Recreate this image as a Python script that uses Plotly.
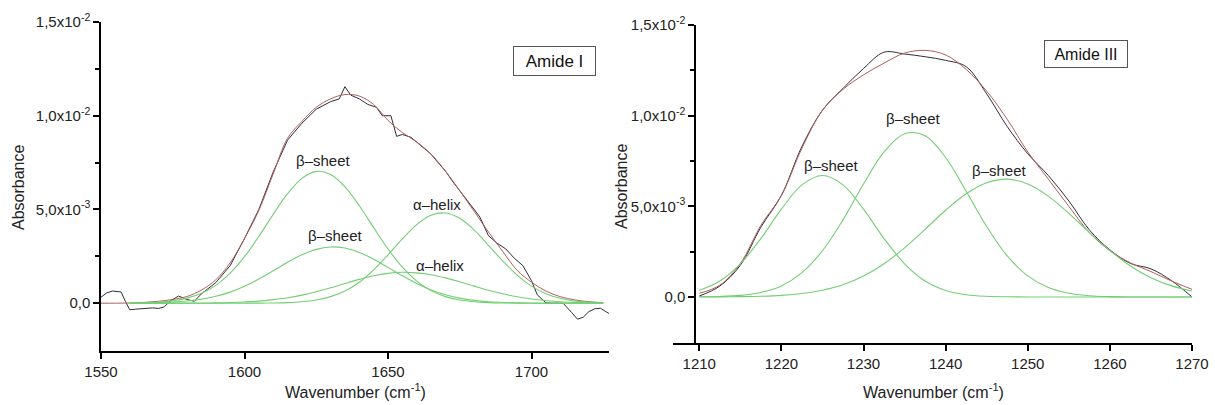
import plotly.graph_objects as go

# ---------------- Amide I (left) ----------------
amI_fit_x = [1550, 1555, 1560, 1565, 1570, 1575, 1580, 1585, 1590, 1595, 1600, 1605, 1610, 1615,
             1620, 1625, 1630, 1635, 1640, 1645, 1650, 1655, 1660, 1665, 1670, 1675, 1680, 1685,
             1690, 1695, 1700, 1705, 1710, 1715, 1720, 1725]
amI_fit_y = [0.0, 0.0, 0.01, 0.04, 0.10, 0.20, 0.36, 0.70, 1.25, 2.15, 3.45, 4.95, 6.90, 8.80,
             9.70, 10.45, 10.90, 11.13, 11.05, 10.60, 9.75, 9.10, 8.60, 7.95, 7.05, 6.00, 4.90, 3.80,
             2.75, 1.75, 1.12, 0.65, 0.35, 0.18, 0.08, 0.03]

amI_raw_x = [1550, 1552, 1554, 1557, 1558.5, 1560, 1562, 1565, 1568, 1570, 1572, 1574, 1577, 1580,
             1582.5, 1585, 1590, 1595, 1600, 1605, 1610, 1615, 1620, 1625, 1628, 1630, 1633, 1635,
             1637, 1640, 1643, 1646, 1648, 1651, 1653, 1655, 1658, 1662, 1665, 1668, 1670, 1673,
             1676, 1679, 1682, 1685, 1688, 1691, 1694, 1697, 1700, 1702, 1705, 1708, 1711, 1714,
             1716, 1718, 1720, 1722, 1724, 1727]
amI_raw_y = [0.32, 0.55, 0.65, 0.60, 0.10, -0.35, -0.32, -0.30, -0.25, -0.28, -0.20, 0.10, 0.38, 0.20,
             0.10, 0.50, 1.10, 2.00, 3.45, 5.00, 7.00, 8.70, 9.60, 10.35, 10.60, 10.75, 10.90, 11.55,
             11.10, 10.90, 10.60, 10.45, 10.00, 10.00, 8.90, 9.00, 8.85, 8.35, 7.95, 7.40, 7.05, 6.40,
             5.80, 5.20, 4.60, 3.60, 3.20, 2.90, 2.40, 2.00, 1.20, 0.45, 0.02, 0.0, 0.0, -0.50,
             -0.85, -0.75, -0.45, -0.30, -0.27, -0.55]

amI_comp_x = [1560, 1565, 1570, 1575, 1580, 1585, 1590, 1595, 1600, 1605, 1610, 1615, 1620, 1625,
              1630, 1635, 1640, 1645, 1650, 1655, 1660, 1665, 1670, 1675, 1680, 1685, 1690, 1695,
              1700, 1705, 1710, 1715, 1720, 1725]
amI_beta1 = [0.008, 0.023, 0.056, 0.127, 0.27, 0.53, 0.95, 1.60, 2.48, 3.56, 4.74, 5.84, 6.66, 7.03,
             6.87, 6.21, 5.20, 4.03, 2.89, 1.92, 1.18, 0.67, 0.35, 0.17, 0.078, 0.033, 0.013, 0.005,
             0.0, 0.0, 0.0, 0.0, 0.0, 0.0]
amI_beta2 = [0.005, 0.013, 0.029, 0.059, 0.116, 0.21, 0.37, 0.59, 0.90, 1.29, 1.73, 2.18, 2.58, 2.87,
             3.00, 2.94, 2.71, 2.35, 1.91, 1.46, 1.05, 0.71, 0.45, 0.27, 0.15, 0.078, 0.039, 0.018,
             0.008, 0.0, 0.0, 0.0, 0.0, 0.0]
amI_alpha1 = [0.0, 0.0, 0.0, 0.0, 0.0, 0.0, 0.0, 0.0, 0.002, 0.005, 0.012, 0.031, 0.076, 0.17,
              0.35, 0.65, 1.12, 1.78, 2.58, 3.43, 4.19, 4.69, 4.81, 4.53, 3.91, 3.09, 2.25, 1.50,
              0.91, 0.51, 0.26, 0.12, 0.054, 0.021]
amI_alpha2 = [0.0, 0.0, 0.001, 0.002, 0.004, 0.009, 0.018, 0.035, 0.065, 0.11, 0.19, 0.29, 0.43, 0.61,
              0.82, 1.05, 1.27, 1.46, 1.59, 1.65, 1.62, 1.52, 1.35, 1.14, 0.91, 0.69, 0.50, 0.34,
              0.22, 0.14, 0.081, 0.045, 0.024, 0.012]

# ---------------- Amide III (right) ----------------
amIII_x = [1210, 1212.5, 1215, 1217.5, 1220, 1222.5, 1225, 1227.5, 1230, 1232.5, 1235, 1237.5, 1240,
           1242.5, 1245, 1247.5, 1250, 1252.5, 1255, 1257.5, 1260, 1262.5, 1265, 1267.5, 1270]
amIII_fit = [0.20, 0.65, 1.85, 3.95, 5.60, 8.20, 10.30, 11.45, 12.25, 12.90, 13.45, 13.60, 13.35,
             12.55, 11.35, 9.80, 8.00, 6.50, 5.00, 3.55, 2.55, 1.88, 1.40, 0.88, 0.42]
amIII_raw = [0.05, 0.60, 1.75, 3.85, 5.60, 8.30, 10.30, 11.50, 12.60, 13.50, 13.40, 13.25, 13.05,
             12.70, 11.20, 9.40, 7.90, 6.70, 5.30, 3.70, 2.60, 1.85, 1.55, 0.90, 0.0]
amIII_betaA = [0.36, 0.88, 1.83, 3.22, 4.84, 6.18, 6.70, 6.18, 4.84, 3.22, 1.83, 0.88, 0.36,
               0.125, 0.037, 0.009, 0.0, 0.0, 0.0, 0.0, 0.0, 0.0, 0.0, 0.0, 0.0]
amIII_betaB = [0.007, 0.027, 0.088, 0.25, 0.61, 1.34, 2.55, 4.25, 6.23, 8.00, 9.00, 8.89, 7.69,
               5.83, 3.88, 2.26, 1.16, 0.52, 0.20, 0.07, 0.02, 0.0, 0.0, 0.0, 0.0]
amIII_betaC = [0.002, 0.006, 0.016, 0.038, 0.088, 0.19, 0.37, 0.67, 1.15, 1.83, 2.71, 3.73, 4.78,
               5.69, 6.30, 6.50, 6.23, 5.56, 4.61, 3.56, 2.56, 1.71, 1.06, 0.61, 0.33]

SCALE = 1e-3
yticks = [0.0, 0.005, 0.010, 0.015]
yticktext = ["0,0", "5,0x10<sup>-3</sup>", "1,0x10<sup>-2</sup>", "1,5x10<sup>-2</sup>"]
yminor = [0.0025, 0.0075, 0.0125]

GREEN = "#72cf72"
RED = "#b0605c"
BLACK = "#2e2e3a"
FONT = "Liberation Sans, Arial, sans-serif"

def sc(v):
    return [a * SCALE for a in v]

fig = go.Figure()

# Left traces
fig.add_trace(go.Scatter(x=amI_raw_x, y=sc(amI_raw_y), mode="lines", line=dict(color=BLACK, width=1),
                         xaxis="x", yaxis="y", showlegend=False))
fig.add_trace(go.Scatter(x=amI_fit_x, y=sc(amI_fit_y), mode="lines", line=dict(color=RED, width=1, shape="spline"),
                         xaxis="x", yaxis="y", showlegend=False))
for comp in [amI_beta1, amI_beta2, amI_alpha1, amI_alpha2]:
    fig.add_trace(go.Scatter(x=amI_comp_x, y=sc(comp), mode="lines",
                             line=dict(color=GREEN, width=1.1, shape="spline"),
                             xaxis="x", yaxis="y", showlegend=False))

# Right traces
fig.add_trace(go.Scatter(x=amIII_x, y=sc(amIII_raw), mode="lines", line=dict(color=BLACK, width=1, shape="spline"),
                         xaxis="x2", yaxis="y2", showlegend=False))
fig.add_trace(go.Scatter(x=amIII_x, y=sc(amIII_fit), mode="lines", line=dict(color=RED, width=1, shape="spline"),
                         xaxis="x2", yaxis="y2", showlegend=False))
for comp in [amIII_betaA, amIII_betaB, amIII_betaC]:
    fig.add_trace(go.Scatter(x=amIII_x, y=sc(comp), mode="lines",
                             line=dict(color=GREEN, width=1.1, shape="spline"),
                             xaxis="x2", yaxis="y2", showlegend=False))

W, H = 1215, 405
axis_common = dict(showline=True, linecolor="black", linewidth=1.5, ticks="outside", ticklen=6,
                   tickwidth=1.5, tickcolor="black", showgrid=False, zeroline=False, automargin=False,
                   tickfont=dict(family=FONT, size=15, color="#222"))

fig.update_layout(
    template="none",
    width=W, height=H, margin=dict(l=0, r=0, t=0, b=0, pad=0), autosize=False,
    paper_bgcolor="white", plot_bgcolor="white",
    font=dict(family=FONT, color="#222"),
    xaxis=dict(domain=[101 / W, 609 / W], range=[1550, 1727], tickmode="array",
               tickvals=[1550, 1600, 1650, 1700], anchor="y", **axis_common),
    yaxis=dict(domain=[1 - 351 / H, 1 - 22 / H], range=[-0.00255, 0.015], tickmode="array",
               tickvals=yticks, ticktext=yticktext, anchor="x",
               minor=dict(tickmode="array", tickvals=yminor, ticklen=4, tickwidth=1.5, tickcolor="black",
                          ticks="outside"),
               **axis_common),
    xaxis2=dict(domain=[673 / W, 1192 / W], range=[1206.8, 1270], tickmode="array",
                tickvals=[1210, 1220, 1230, 1240, 1250, 1260, 1270], anchor="y2", **axis_common),
    yaxis2=dict(domain=[1 - 343 / H, 1 - 25 / H], range=[-0.00254, 0.015], tickmode="array",
                tickvals=yticks, ticktext=yticktext, anchor="free", position=695 / W,
                minor=dict(tickmode="array", tickvals=yminor, ticklen=4, tickwidth=1.5, tickcolor="black",
                           ticks="outside"),
                **axis_common),
)

lab_font = dict(family=FONT, size=15, color="#222")
title_font = dict(family=FONT, size=16, color="#222")
annotations = [
    dict(text="β–sheet", x=1627.4, y=0.00763, xref="x", yref="y", showarrow=False, font=lab_font),
    dict(text="β–sheet", x=1631.5, y=0.00363, xref="x", yref="y", showarrow=False, font=lab_font),
    dict(text="α–helix", x=1667, y=0.00528, xref="x", yref="y", showarrow=False, font=lab_font),
    dict(text="α–helix", x=1668, y=0.00199, xref="x", yref="y", showarrow=False, font=lab_font),
    dict(text="Amide I", x=1708.0, y=0.01291, xref="x", yref="y", showarrow=False,
         font=dict(family=FONT, size=17, color="#111"), bordercolor="#555", borderwidth=1,
         bgcolor="white", width=81, height=28, borderpad=0),
    dict(text="β–sheet", x=1226.0, y=0.00724, xref="x2", yref="y2", showarrow=False, font=lab_font),
    dict(text="β–sheet", x=1236.0, y=0.00985, xref="x2", yref="y2", showarrow=False, font=lab_font),
    dict(text="β–sheet", x=1246.5, y=0.00696, xref="x2", yref="y2", showarrow=False, font=lab_font),
    dict(text="Amide III", x=1257.05, y=0.0134, xref="x2", yref="y2", showarrow=False,
         font=dict(family=FONT, size=16, color="#111"), bordercolor="#555", borderwidth=1,
         bgcolor="white", width=82, height=26, borderpad=0),
    # axis titles
    dict(text="Absorbance", x=19 / W, y=1 - 188 / H, xref="paper", yref="paper", showarrow=False,
         xanchor="center", yanchor="middle", textangle=-90, font=title_font),
    dict(text="Absorbance", x=622 / W, y=1 - 187 / H, xref="paper", yref="paper", showarrow=False,
         xanchor="center", yanchor="middle", textangle=-90, font=title_font),
    dict(text="Wavenumber (cm<sup>-1</sup>)", x=355 / W, y=1 - 391 / H, xref="paper", yref="paper",
         xanchor="center", yanchor="middle", showarrow=False, font=title_font),
    dict(text="Wavenumber (cm<sup>-1</sup>)", x=933 / W, y=1 - 391 / H, xref="paper", yref="paper",
         xanchor="center", yanchor="middle", showarrow=False, font=title_font),
]
fig.update_layout(annotations=annotations)

fig.write_html("out.html", config={"responsive": False, "displayModeBar": False},
               post_script="document.body.style.margin='0';document.body.style.padding='0';"
                           "document.documentElement.style.overflow='hidden';")
